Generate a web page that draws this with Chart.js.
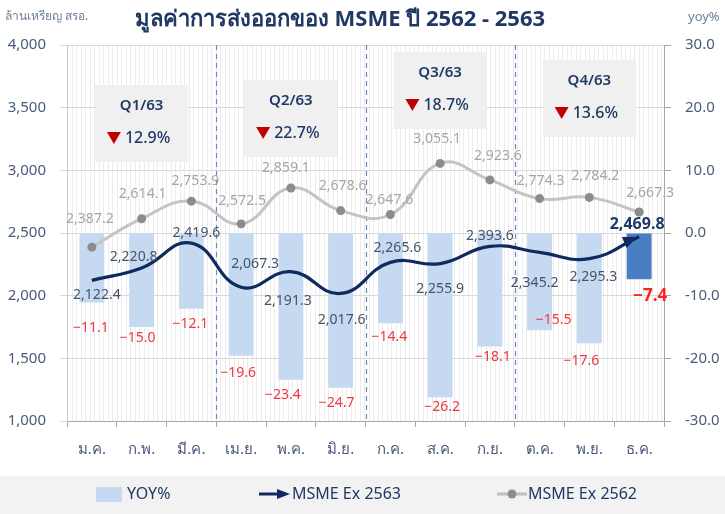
<!DOCTYPE html>
<html>
<head>
<meta charset="utf-8">
<script src="https://cdn.jsdelivr.net/npm/chart.js@4"></script>
<style>
  html, body { margin: 0; padding: 0; background: #fff; }
  #wrap { position: relative; width: 725px; height: 514px; }
</style>
</head>
<body>
<div id="wrap"><canvas id="myChart"></canvas></div>
<script>
// data
var months = ['ม.ค.', 'ก.พ.', 'มี.ค.', 'เม.ย.', 'พ.ค.', 'มิ.ย.', 'ก.ค.', 'ส.ค.', 'ก.ย.', 'ต.ค.', 'พ.ย.', 'ธ.ค.'];
var yoyPct = [-11.1, -15.0, -12.1, -19.6, -23.4, -24.7, -14.4, -26.2, -18.1, -15.5, -17.6, -7.4];
var msme2563 = [2122.4, 2220.8, 2419.6, 2067.3, 2191.3, 2017.6, 2265.6, 2255.9, 2393.6, 2345.2, 2295.3, 2469.8];
var msme2562 = [2387.2, 2614.1, 2753.9, 2572.5, 2859.1, 2678.6, 2647.6, 3055.1, 2923.6, 2774.3, 2784.2, 2667.3];
var quarterNames = ['Q1/63', 'Q2/63', 'Q3/63', 'Q4/63'];
var quarterChange = [12.9, 22.7, 18.7, 13.6];

// label nudges (px) so the numbers sit where they do in the original
var navyOffsets = [[5, 15], [-8, -11], [5, -10], [14, -23], [-3, 29], [1, 27], [7, -14], [0, 25], [0, -10], [-5, 31], [4, 18], [-2, -12]];
var greyOffsets = [[-2, -28], [1, -25], [4, -20], [1, -23], [-5, -20], [2, -25], [-1, -14], [-3, -24], [8, -24], [1, -18], [6, -21], [11, -19]];
var redOffsets = [[-1, 25], [-4, 11], [-1, 15], [-3, 17], [-8, 15], [-4, 15], [-1, 14], [2, 10], [3, 11], [14, -10], [-8, 18], [11, 17]];
// quarter boxes: centre category and top edge in left-axis units
var quarterBoxes = [{ mid: 1, top: 3681 }, { mid: 4, top: 3721 }, { mid: 7, top: 3944 }, { mid: 10, top: 3880 }];

var FONT = "'Noto Sans', 'DejaVu Sans', sans-serif";
var NAVY = '#1f3864';
var AXIS_TXT = '#4a5a7a';

function fmt(v) {
  return v.toLocaleString('en-US', { minimumFractionDigits: 1, maximumFractionDigits: 1 });
}

var decor = {
  id: 'decor',
  beforeDraw: function (chart) {
    var ctx = chart.ctx, a = chart.chartArea;
    ctx.save();
    ctx.fillStyle = '#fff';
    ctx.fillRect(0, 0, chart.width, chart.height);
    // fine vertical stripes behind the plot
    ctx.strokeStyle = '#ececec';
    ctx.lineWidth = 1;
    for (var x = a.left + 4.5; x < a.right; x += 4.5) {
      ctx.beginPath();
      ctx.moveTo(Math.round(x) + 0.5, a.top);
      ctx.lineTo(Math.round(x) + 0.5, a.bottom);
      ctx.stroke();
    }
    // legend band
    ctx.fillStyle = '#f2f2f2';
    ctx.fillRect(0, 476, chart.width, chart.height - 476);
    ctx.restore();
  },
  beforeDatasetsDraw: function (chart) {
    var ctx = chart.ctx, a = chart.chartArea;
    var xs = chart.scales.x, ys = chart.scales.y;
    ctx.save();
    // quarter separators
    ctx.strokeStyle = '#6a8abb';
    ctx.lineWidth = 1.2;
    ctx.setLineDash([5, 4]);
    [2.5, 5.5, 8.5].forEach(function (v) {
      var px = Math.round(xs.getPixelForValue(v)) + 0.5;
      ctx.beginPath();
      ctx.moveTo(px, a.top);
      ctx.lineTo(px, a.bottom);
      ctx.stroke();
    });
    ctx.setLineDash([]);
    // quarter boxes
    quarterBoxes.forEach(function (q, i) {
      var cx = xs.getPixelForValue(q.mid);
      var top = ys.getPixelForValue(q.top);
      var w = 93, h = 77;
      ctx.fillStyle = '#f0f0f0';
      ctx.fillRect(cx - w / 2, top, w, h);
      ctx.fillStyle = NAVY;
      ctx.font = '600 15px ' + FONT;
      ctx.textAlign = 'center';
      ctx.textBaseline = 'middle';
      ctx.fillText(quarterNames[i], cx, top + 21);
      var txt = quarterChange[i].toFixed(1) + '%';
      ctx.font = '500 16px ' + FONT;
      var tw = ctx.measureText(txt).width;
      var gw = 14 + 4 + tw;
      var gx = cx - gw / 2 - 3;
      var ty = top + 53;
      ctx.fillStyle = '#c00000';
      ctx.beginPath();
      ctx.moveTo(gx, ty - 6);
      ctx.lineTo(gx + 14, ty - 6);
      ctx.lineTo(gx + 7, ty + 6);
      ctx.closePath();
      ctx.fill();
      ctx.fillStyle = NAVY;
      ctx.textAlign = 'left';
      ctx.fillText(txt, gx + 18, ty);
    });
    ctx.restore();
  },
  afterDatasetsDraw: function (chart) {
    var ctx = chart.ctx;
    var bars = chart.getDatasetMeta(0).data;
    var navy = chart.getDatasetMeta(1).data;
    var grey = chart.getDatasetMeta(2).data;
    ctx.save();
    ctx.textAlign = 'center';
    ctx.textBaseline = 'middle';
    // arrow head on the 2563 line
    var p = navy[navy.length - 1];
    var ang = Math.atan2(p.y - p.cp1y, p.x - p.cp1x);
    ctx.fillStyle = '#0f2a5e';
    ctx.translate(p.x - 2, p.y);
    ctx.rotate(ang);
    ctx.beginPath();
    ctx.moveTo(0, 0);
    ctx.lineTo(-14, -6);
    ctx.lineTo(-14, 6);
    ctx.closePath();
    ctx.fill();
    ctx.setTransform(1, 0, 0, 1, 0, 0);

    for (var i = 0; i < months.length; i++) {
      var last = i === months.length - 1;
      // grey 2562 values
      ctx.fillStyle = '#a6a6a6';
      ctx.font = '14px ' + FONT;
      ctx.fillText(fmt(msme2562[i]), grey[i].x + greyOffsets[i][0], grey[i].y + greyOffsets[i][1]);
      // navy 2563 values
      ctx.fillStyle = last ? NAVY : '#44546a';
      ctx.font = (last ? 'bold 16px ' : '14px ') + FONT;
      ctx.fillText(fmt(msme2563[i]), navy[i].x + navyOffsets[i][0], navy[i].y + navyOffsets[i][1]);
      // red yoy values under the bars
      var b = bars[i];
      ctx.fillStyle = last ? '#ff1f1f' : '#f0383e';
      ctx.font = (last ? 'bold 17px ' : '14px ') + FONT;
      ctx.fillText(yoyPct[i].toFixed(1).replace('-', '\u2212'), b.x + redOffsets[i][0], b.y + redOffsets[i][1]);
    }
    ctx.restore();
  },
  afterDraw: function (chart) {
    var ctx = chart.ctx;
    ctx.save();
    ctx.textBaseline = 'middle';
    // title and axis units
    ctx.textAlign = 'center';
    ctx.fillStyle = NAVY;
    ctx.font = 'bold 22px ' + FONT;
    ctx.fillText('มูลค่าการส่งออกของ MSME ปี 2562 - 2563', 340, 20);
    ctx.font = '12px ' + FONT;
    ctx.fillStyle = '#6f7f99';
    ctx.textAlign = 'left';
    ctx.fillText('ล้านเหรียญ สรอ.', 5, 17);
    ctx.font = '13px ' + FONT;
    ctx.fillText('yoy%', 688, 17);

    // legend
    var ly = 494;
    ctx.font = '16px ' + FONT;
    ctx.fillStyle = '#c5d9f1';
    ctx.fillRect(96, 487, 26, 15);
    ctx.fillStyle = NAVY;
    ctx.fillText('YOY%', 127, ly);

    ctx.strokeStyle = '#0f2a5e';
    ctx.lineWidth = 3;
    ctx.beginPath();
    ctx.moveTo(259, ly);
    ctx.lineTo(278, ly);
    ctx.stroke();
    ctx.fillStyle = '#0f2a5e';
    ctx.beginPath();
    ctx.moveTo(290, ly);
    ctx.lineTo(277, ly - 5);
    ctx.lineTo(277, ly + 5);
    ctx.closePath();
    ctx.fill();
    ctx.fillStyle = NAVY;
    ctx.fillText('MSME Ex 2563', 292, ly);

    ctx.strokeStyle = '#bfbfbf';
    ctx.beginPath();
    ctx.moveTo(497, ly);
    ctx.lineTo(527, ly);
    ctx.stroke();
    ctx.fillStyle = '#8c8c8c';
    ctx.beginPath();
    ctx.arc(512, ly, 4.5, 0, Math.PI * 2);
    ctx.fill();
    ctx.fillStyle = NAVY;
    ctx.fillText('MSME Ex 2562', 528, ly);
    ctx.restore();
  }
};

var barColors = yoyPct.map(function (v, i) { return i === yoyPct.length - 1 ? '#4a7ec4' : '#c5d9f1'; });

var ctx = document.getElementById('myChart').getContext('2d');
var myChart = new Chart(ctx, {
  type: 'bar',
  data: {
    labels: months,
    datasets: [
      {
        type: 'bar',
        label: 'YOY%',
        data: yoyPct,
        yAxisID: 'y1',
        backgroundColor: barColors,
        barPercentage: 0.5,
        categoryPercentage: 1,
        order: 3
      },
      {
        type: 'line',
        label: 'MSME Ex 2563',
        data: msme2563,
        yAxisID: 'y',
        borderColor: '#0f2a5e',
        borderWidth: 3.2,
        tension: 0.45,
        pointRadius: 0,
        fill: false,
        order: 1
      },
      {
        type: 'line',
        label: 'MSME Ex 2562',
        data: msme2562,
        yAxisID: 'y',
        borderColor: '#c4c4c4',
        borderWidth: 3,
        tension: 0.45,
        pointRadius: 4.5,
        pointBorderWidth: 0,
        pointBackgroundColor: '#8c8c8c',
        pointBorderColor: '#8c8c8c',
        fill: false,
        order: 2
      }
    ]
  },
  options: {
    responsive: true,
    maintainAspectRatio: false,
    animation: false,
    layout: { padding: { left: 0, right: 0, top: 45, bottom: 0 } },
    plugins: {
      legend: { display: false },
      title: { display: false },
      tooltip: { enabled: false }
    },
    scales: {
      x: {
        offset: true,
        grid: { display: true, drawOnChartArea: false, offset: true, tickLength: 6, color: '#a6a6a6' },
        border: { color: '#a6a6a6' },
        ticks: { color: AXIS_TXT, font: { family: FONT, size: 15 }, padding: 14 },
        afterFit: function (s) { s.height = 93; }
      },
      y: {
        position: 'left',
        min: 1000,
        max: 4000,
        ticks: {
          stepSize: 500,
          color: AXIS_TXT,
          font: { family: FONT, size: 15 },
          padding: 14,
          callback: function (v) { return v.toLocaleString('en-US'); }
        },
        grid: { color: '#d9d9d9', tickLength: 7 },
        border: { color: '#c8c8c8' },
        afterFit: function (s) { s.width = 67; }
      },
      y1: {
        position: 'right',
        min: -30,
        max: 30,
        ticks: {
          stepSize: 10,
          color: AXIS_TXT,
          font: { family: FONT, size: 15 },
          padding: 14,
          callback: function (v) { return v.toFixed(1); }
        },
        grid: { drawOnChartArea: false, color: '#a6a6a6', tickLength: 7 },
        border: { color: '#a6a6a6' },
        afterFit: function (s) { s.width = 61; }
      }
    }
  },
  plugins: [decor]
});
</script>
</body>
</html>
